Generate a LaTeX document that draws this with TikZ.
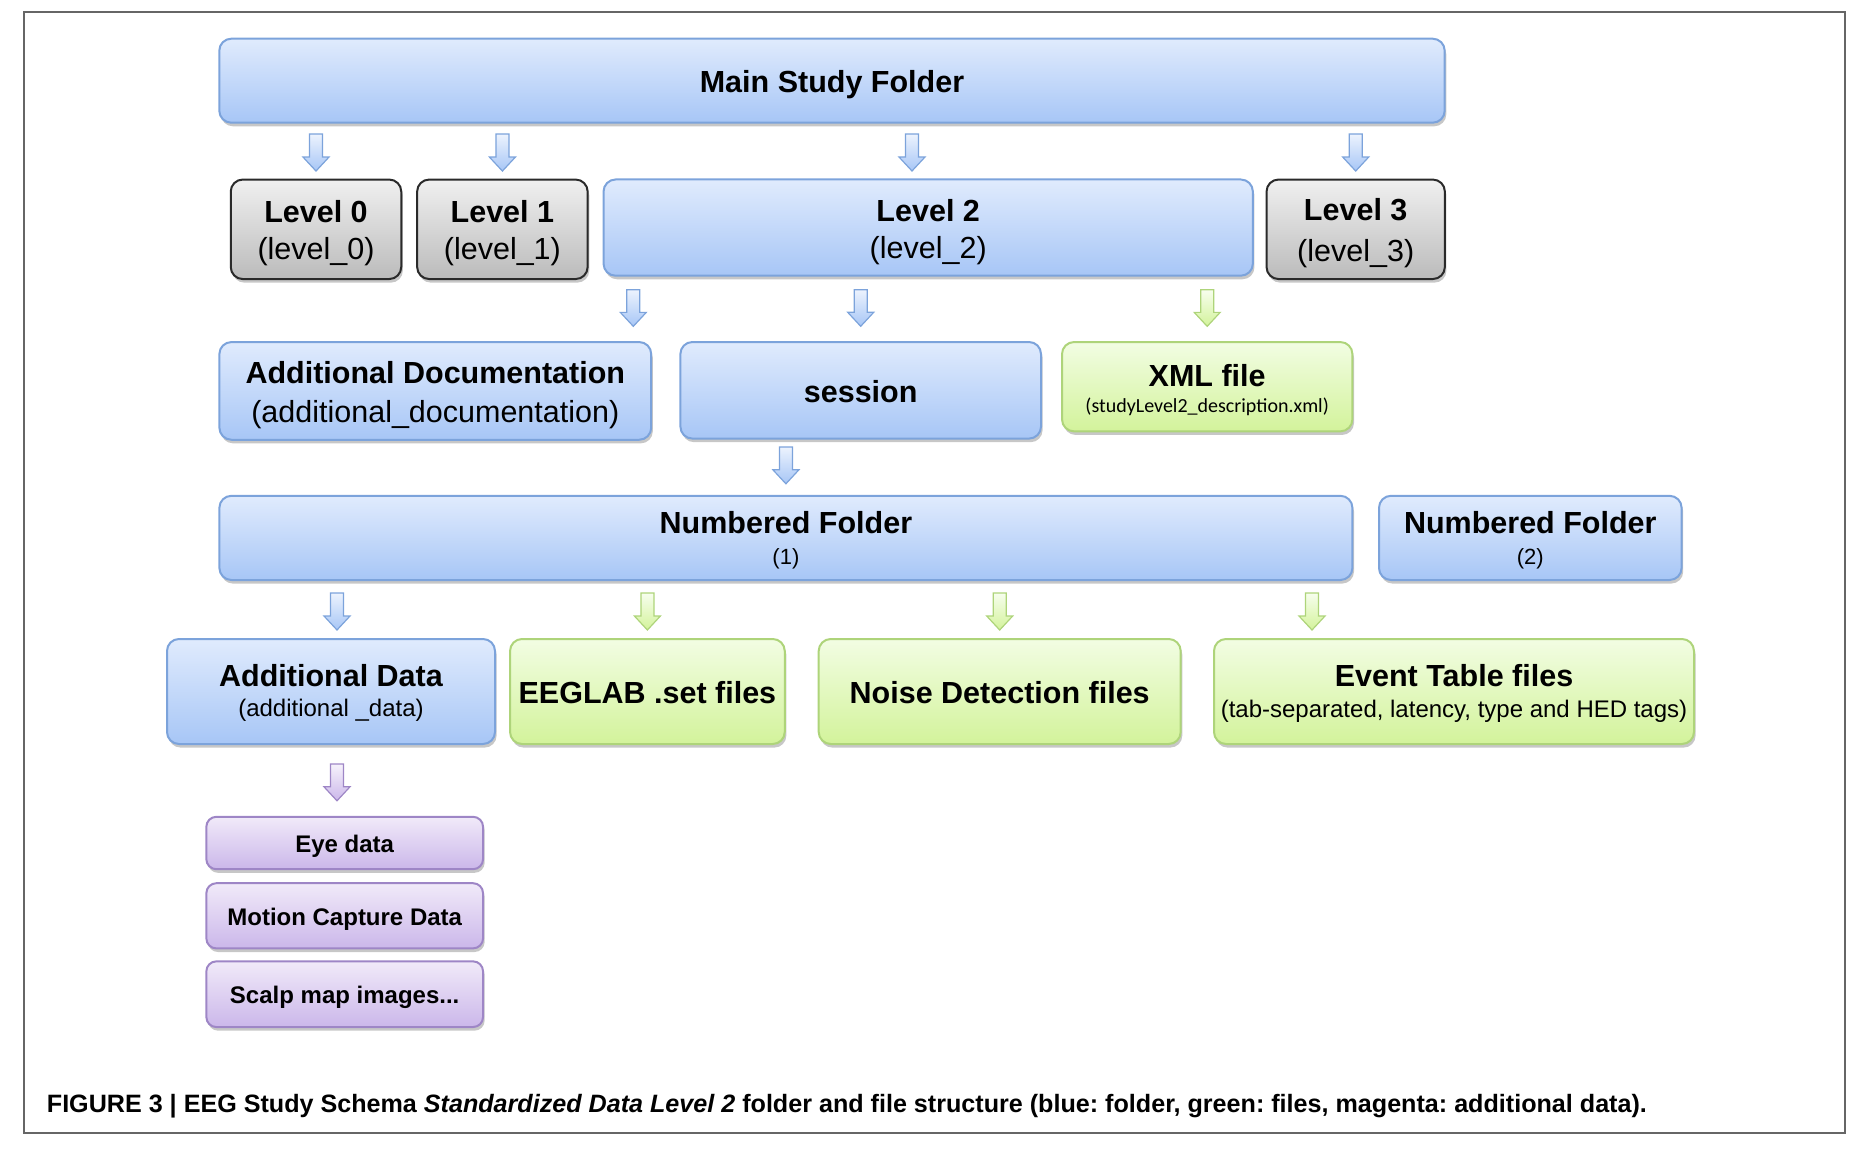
\documentclass[tikz,border=0pt]{standalone}
\usepackage{fontspec}
\setmainfont{Liberation Sans}
\newfontfamily\calib{Carlito}
\usetikzlibrary{calc,shadows}
\definecolor{bluetop}{HTML}{E0EBFD}
\definecolor{bluebot}{HTML}{A7C6F6}
\definecolor{bluedraw}{HTML}{7CA3DB}
\definecolor{graytop}{HTML}{F0F0F0}
\definecolor{graybot}{HTML}{BBBBBB}
\definecolor{graydraw}{HTML}{2A2A2A}
\definecolor{greentop}{HTML}{F2FDE3}
\definecolor{greenbot}{HTML}{D3F39B}
\definecolor{greendraw}{HTML}{AED47A}
\definecolor{purptop}{HTML}{F1EAF9}
\definecolor{purpbot}{HTML}{CBB7EA}
\definecolor{purpdraw}{HTML}{9E86C6}
\definecolor{framecol}{HTML}{666666}
\def\tsh{0pt}
\newcommand\dn[1]{\raisebox{-\tsh}[\height][\depth]{#1}}
\newcommand\blockarrow[3]{\path[#1] let \p1=#2, \p2=#3 in
  (\x1-3.25pt,\y1) -- (\x1+3.25pt,\y1) -- (\x1+3.25pt,\y2+7pt) -- (\x1+6.5pt,\y2+7pt)
  -- (\x1,\y2) -- (\x1-6.5pt,\y2+7pt) -- (\x1-3.25pt,\y2+7pt) -- cycle;}
\begin{document}
\begin{tikzpicture}[x=0.5pt,y=-0.5pt,
  tshift/.code={\def\tsh{#1}},
  box/.style={rounded corners=6pt, draw, line width=1pt, align=center, inner sep=0pt,
    drop shadow={shadow xshift=0.8pt, shadow yshift=-1.8pt, fill=black, opacity=0.22}},
  bluebox/.style={box, draw=bluedraw, top color=bluetop, bottom color=bluebot},
  graybox/.style={box, draw=graydraw, top color=graytop, bottom color=graybot},
  greenbox/.style={box, draw=greendraw, top color=greentop, bottom color=greenbot},
  purpbox/.style={box, rounded corners=5pt, draw=purpdraw, top color=purptop, bottom color=purpbot,
    font=\bfseries\fontsize{12}{14}\selectfont, minimum width=138.35pt, tshift=1.5pt},
  big/.style={font=\fontsize{15.25}{18.5}\selectfont},
  barrowblue/.style={draw=bluedraw, line width=0.6pt, top color=bluetop!60!white, bottom color=bluebot},
  barrowgreen/.style={draw=greendraw, line width=0.6pt, top color=greentop!60!white, bottom color=greenbot},
  barrowpurp/.style={draw=purpdraw, line width=0.6pt, top color=purptop!60!white, bottom color=purpbot},
  frame/.style={draw=framecol, line width=0.75pt}
]
\useasboundingbox (0,0) rectangle (1870,1156);
\draw[frame] (24,12) rectangle (1845,1133);

% Row 0
\node[bluebox, big, tshift=1.8pt, minimum width=612.7pt, minimum height=42pt] (main) at (832,80.7) {\dn{\bfseries Main Study Folder}};

% Row 1
\node[graybox, big, tshift=1.8pt, minimum width=85.25pt, minimum height=49.75pt] (lvl0) at (316,229.3) {\dn{\bfseries Level 0}\\\dn{(level\_0)}};
\node[graybox, big, tshift=1.8pt, minimum width=85.25pt, minimum height=49.75pt] (lvl1) at (502.4,229.3) {\dn{\bfseries Level 1}\\\dn{(level\_1)}};
\node[bluebox, big, tshift=2.4pt, minimum width=324.65pt, minimum height=48.1pt] (lvl2) at (928.2,227.6) {\dn{\bfseries Level 2}\\\dn{(level\_2)}};
\node[graybox, font=\fontsize{15.25}{20.5}\selectfont, tshift=1.8pt, minimum width=89.15pt, minimum height=49.75pt] (lvl3) at (1355.7,229.3) {\dn{\bfseries Level 3}\\\dn{(level\_3)}};

% Row 2
\node[bluebox, font=\fontsize{15.25}{19.5}\selectfont, tshift=2pt, minimum width=215.9pt, minimum height=48.85pt] (adddoc) at (435.3,390.9) {\dn{\bfseries Additional Documentation}\\\dn{(additional\_documentation)}};
\node[bluebox, big, tshift=0.6pt, minimum width=180.3pt, minimum height=48.3pt] (session) at (860.7,390.3) {\dn{\bfseries session}};
\node[greenbox, font=\fontsize{15.25}{13.1}\selectfont, tshift=1.8pt, minimum width=145.2pt, minimum height=44.65pt] (xml) at (1207.2,386.7) {\dn{\bfseries XML file}\\\dn{\calib\fontsize{10}{12}\selectfont (studyLevel2\_description.xml)}};

% Row 3
\node[bluebox, font=\fontsize{15.25}{15.2}\selectfont, tshift=1.2pt, minimum width=566.5pt, minimum height=42.1pt] (nf1) at (785.9,537.9) {\dn{\bfseries Numbered Folder}\\\dn{\fontsize{11}{13}\selectfont (1)}};
\node[bluebox, font=\fontsize{15.25}{15.2}\selectfont, tshift=1.2pt, minimum width=151.3pt, minimum height=42.1pt] (nf2) at (1530.3,537.9) {\dn{\bfseries Numbered Folder}\\\dn{\fontsize{11}{13}\selectfont (2)}};

% Row 4
\node[bluebox, font=\fontsize{15.25}{14.9}\selectfont, tshift=0.6pt, minimum width=164pt, minimum height=52.5pt] (adddata) at (331,691.5) {\dn{\bfseries Additional Data}\\\dn{\fontsize{12}{14}\selectfont (additional \_data)}};
\node[greenbox, big, tshift=0.6pt, minimum width=137.35pt, minimum height=52.5pt] (eeglab) at (647.4,691.5) {\dn{\bfseries EEGLAB .set files}};
\node[greenbox, big, tshift=0.6pt, minimum width=181pt, minimum height=52.5pt] (noise) at (999.7,691.5) {\dn{\bfseries Noise Detection files}};
\node[greenbox, font=\fontsize{15.25}{15.5}\selectfont, tshift=1.2pt, minimum width=240pt, minimum height=52.5pt] (event) at (1454,691.5) {\dn{\bfseries Event Table files}\\\dn{\fontsize{12}{14}\selectfont (tab-separated, latency, type and HED tags)}};

% Row 5
\node[purpbox, minimum height=26.2pt] (eye) at (344.7,843) {\dn{Eye data}};
\node[purpbox, minimum height=32.6pt] (motion) at (344.7,915.8) {\dn{Motion Capture Data}};
\node[purpbox, minimum height=32.85pt] (scalp) at (344.7,994.2) {\dn{Scalp map images...}};

% helper x positions
\coordinate (cL2) at (912,0);
\coordinate (cAD) at (633.3,0);
\coordinate (cA) at (337,0);
\coordinate (cE) at (1312,0);

% arrows row 1
\blockarrow{barrowblue}{($(main.south -| lvl0)+(0,10.3)$)}{($(lvl0.north)+(0,-7.5)$)}
\blockarrow{barrowblue}{($(main.south -| lvl1)+(0,10.3)$)}{($(lvl1.north)+(0,-7.5)$)}
\blockarrow{barrowblue}{($(main.south -| cL2)+(0,10.3)$)}{($(lvl2.north -| cL2)+(0,-7.5)$)}
\blockarrow{barrowblue}{($(main.south -| lvl3)+(0,10.3)$)}{($(lvl3.north)+(0,-7.5)$)}
% arrows row 2
\blockarrow{barrowblue}{($(lvl2.south -| cAD)+(0,13)$)}{($(adddoc.north -| cAD)+(0,-14.7)$)}
\blockarrow{barrowblue}{($(lvl2.south -| session)+(0,13)$)}{($(session.north)+(0,-14.7)$)}
\blockarrow{barrowgreen}{($(lvl2.south -| xml)+(0,13)$)}{($(xml.north)+(0,-14.7)$)}
% arrow row 3
\blockarrow{barrowblue}{($(session.south -| nf1)+(0,7.4)$)}{($(nf1.north)+(0,-11)$)}
% arrows row 4
\blockarrow{barrowblue}{($(nf1.south -| cA)+(0,12)$)}{($(adddata.north -| cA)+(0,-8)$)}
\blockarrow{barrowgreen}{($(nf1.south -| eeglab)+(0,12)$)}{($(eeglab.north)+(0,-8)$)}
\blockarrow{barrowgreen}{($(nf1.south -| noise)+(0,12)$)}{($(noise.north)+(0,-8)$)}
\blockarrow{barrowgreen}{($(nf1.south -| cE)+(0,12)$)}{($(event.north -| cE)+(0,-8)$)}
% purple arrow
\blockarrow{barrowpurp}{($(adddata.south -| cA)+(0,19)$)}{($(eye.north -| cA)+(0,-15)$)}

% caption
\node[anchor=west, inner sep=0pt] (cap) at (46.5,1106.5) {\resizebox{800pt}{!}{\frenchspacing\bfseries FIGURE 3 | EEG Study Schema \textit{Standardized Data Level 2} folder and file structure (blue: folder, green: files, magenta: additional data).}};
\end{tikzpicture}
\end{document}
